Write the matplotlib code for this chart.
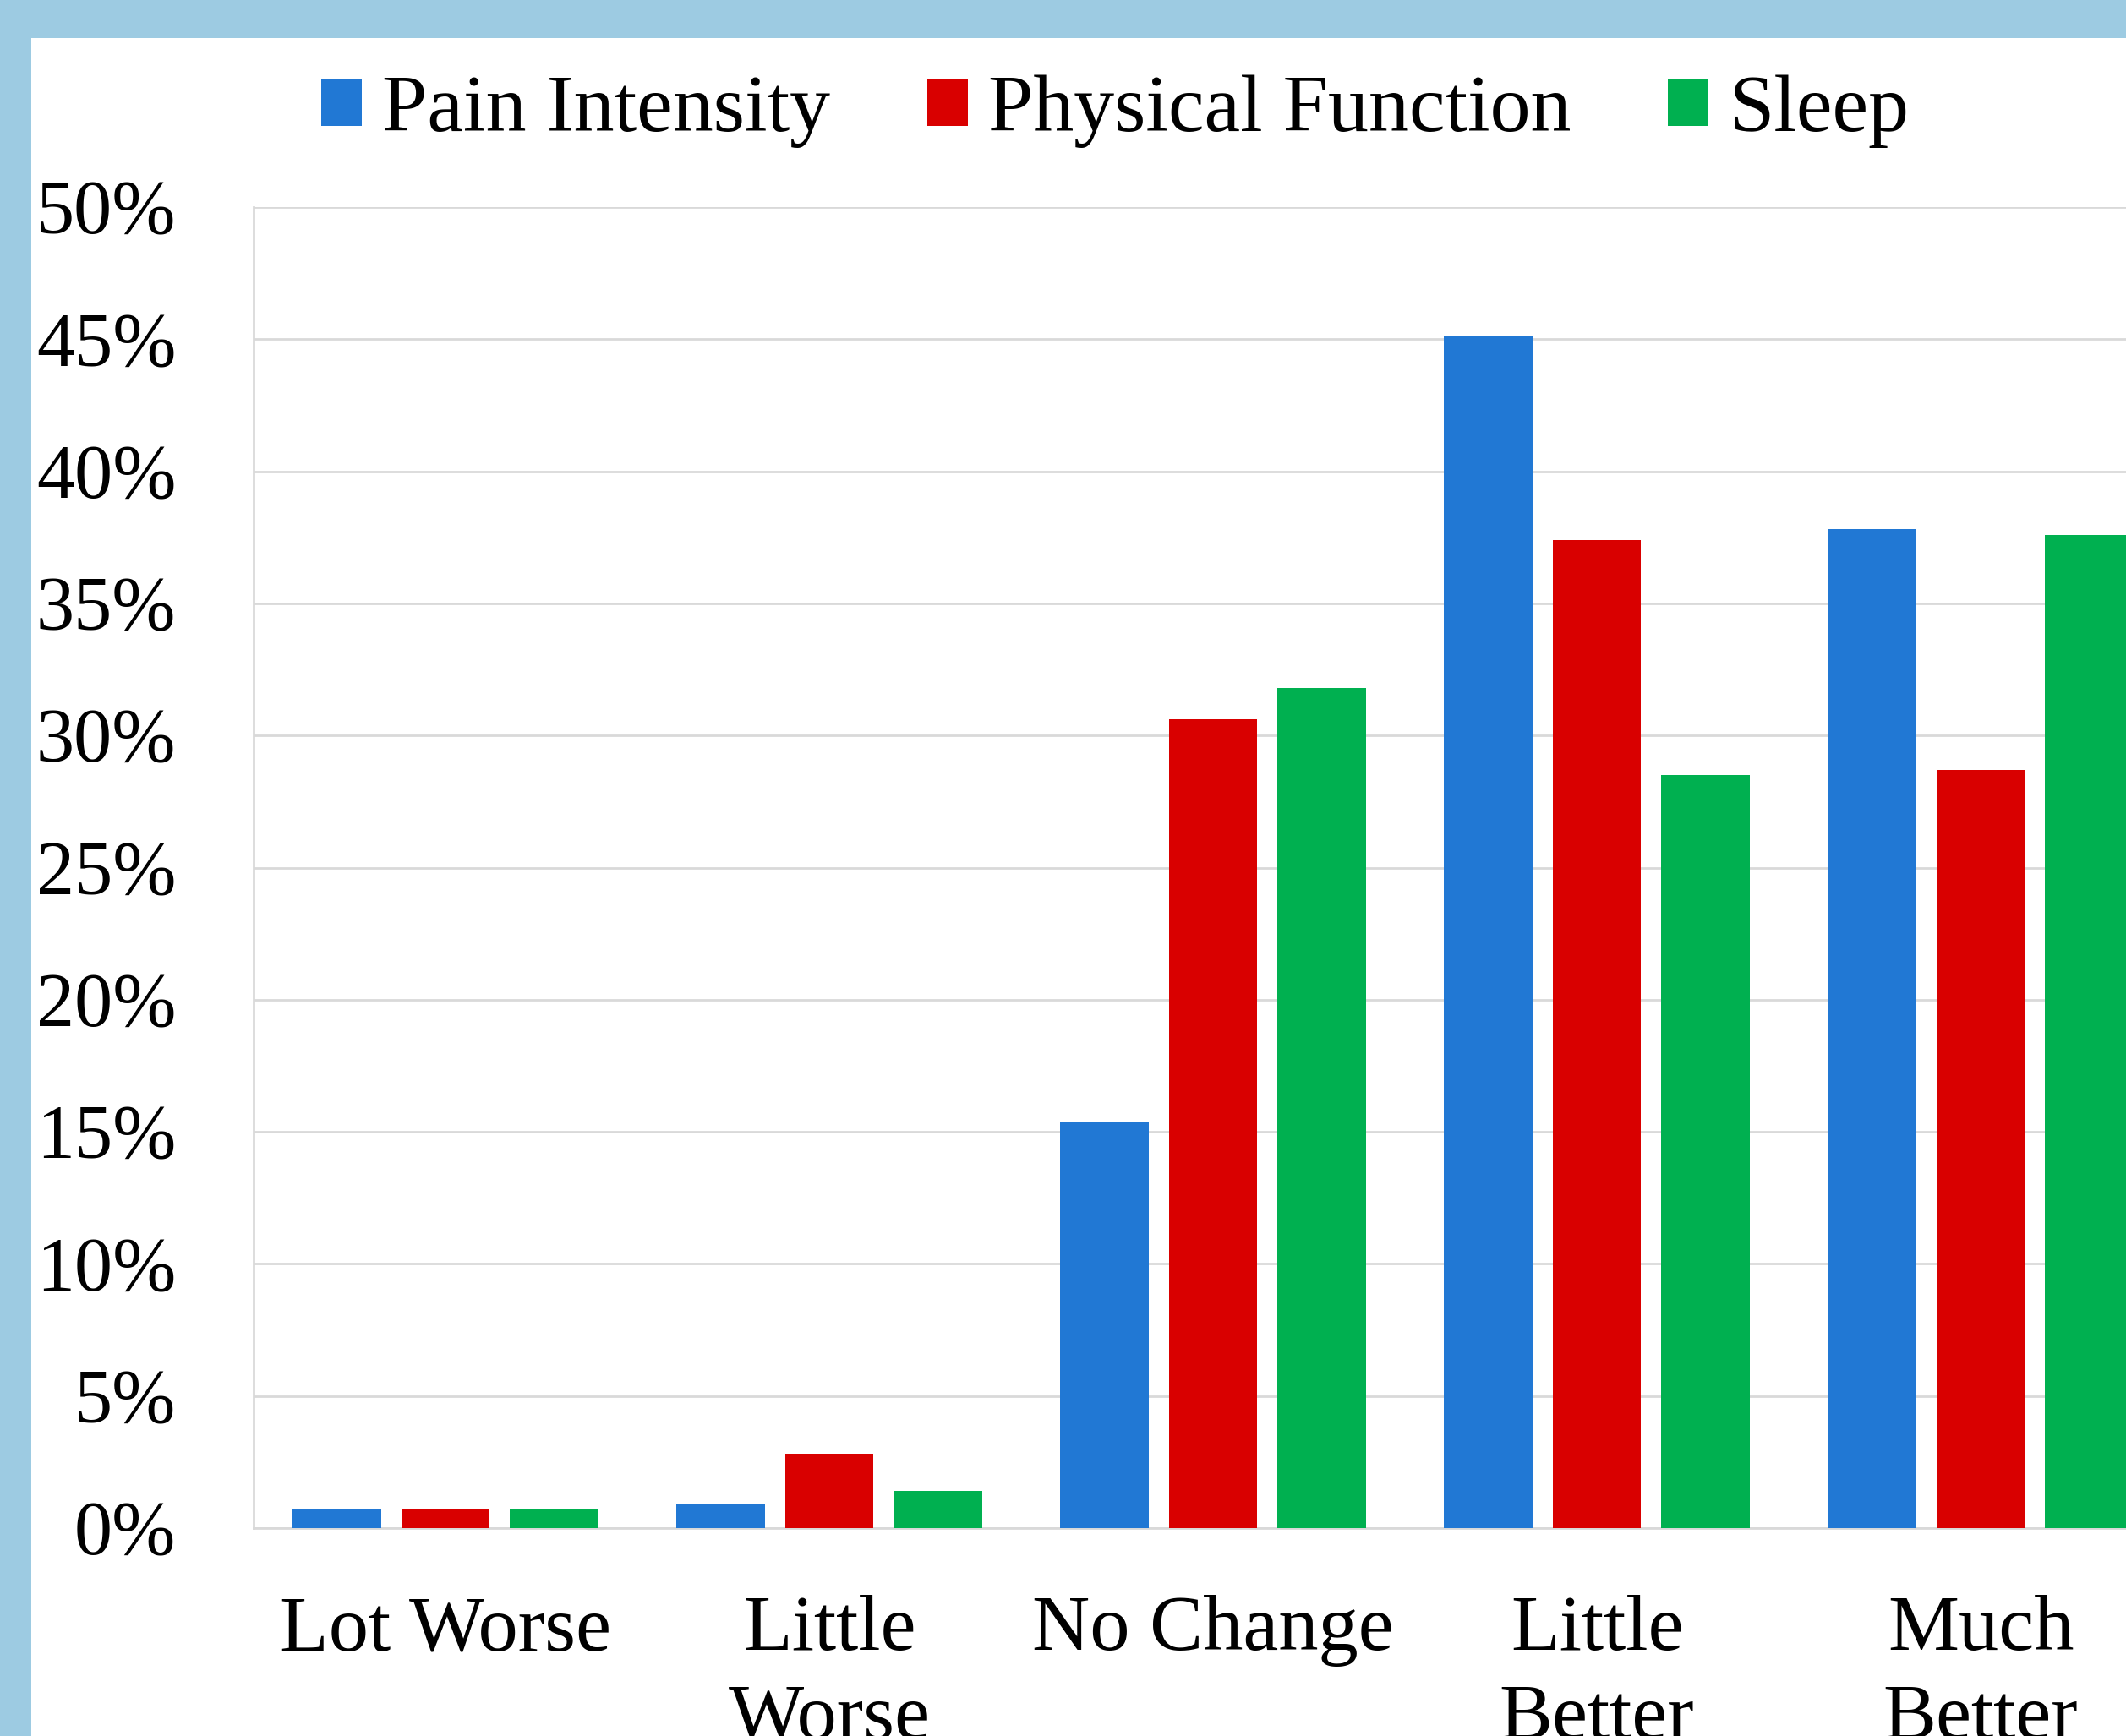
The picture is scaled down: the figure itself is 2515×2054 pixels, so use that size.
import matplotlib
matplotlib.use("Agg")
import matplotlib.pyplot as plt
import numpy as np
from matplotlib.patches import Rectangle
from matplotlib.ticker import FuncFormatter, MultipleLocator

plt.rcParams['font.family'] = ['Liberation Serif', 'DejaVu Serif']

# Données (en %)
categories = ["Lot Worse", "Little\nWorse", "No Change", "Little\nBetter", "Much\nBetter"]
series = ["Pain Intensity", "Physical Function", "Sleep"]
pain = [0.7, 0.9, 15.4, 45.1, 37.8]
physical = [0.7, 2.8, 30.6, 37.4, 28.7]
sleep = [0.7, 1.4, 31.8, 28.5, 37.6]
couleurs = ["#2178d4", "#d90000", "#00b050"]

W, H = 2515, 2054
fig = plt.figure(figsize=(W / 100, H / 100), dpi=100)
fig.patch.set_facecolor("#9dcbe2")
# zone blanche (bordure bleue en haut et à gauche)
fig.patches.append(Rectangle((37 / W, 0), 1, 1 - 45 / H, transform=fig.transFigure,
                             facecolor="white", edgecolor="none", zorder=-5))

ax_left = 300 / W
ax_bottom = (H - 1808) / H
ax_top = (H - 245) / H
ax = fig.add_axes([ax_left, ax_bottom, 2270 / W, ax_top - ax_bottom])
ax.set_facecolor("white")

x = np.arange(len(categories))
pas = 0.283
largeur = 0.23
for i, (nom, vals) in enumerate(zip(series, [pain, physical, sleep])):
    ax.bar(x + (i - 1) * pas, vals, largeur, color=couleurs[i], label=nom, zorder=3)

ax.set_xlim(-0.5, len(categories) - 0.5)
ax.set_ylim(0, 50)
ax.yaxis.set_major_locator(MultipleLocator(5))
ax.yaxis.set_major_formatter(FuncFormatter(lambda v, p: f"{v:.0f}%"))
ax.grid(True, axis='y', color="#d9d9d9", linewidth=2, zorder=0)
ax.set_xticks(x)
ax.set_xticklabels(categories, linespacing=1.3)
ax.tick_params(axis='y', length=0, pad=66, labelsize=65)
ax.tick_params(axis='x', length=0, pad=57, labelsize=68)

for s in ["top", "right"]:
    ax.spines[s].set_visible(False)
for s in ["left", "bottom"]:
    ax.spines[s].set_color("#d9d9d9")
    ax.spines[s].set_linewidth(2)

fig.legend(loc='center', bbox_to_anchor=(0.5245, 0.9357), ncol=3, frameon=False,
           fontsize=69, handlelength=0.5, handleheight=0.5, handletextpad=0.25,
           columnspacing=1.2)

fig.savefig("out.png", dpi=100)
